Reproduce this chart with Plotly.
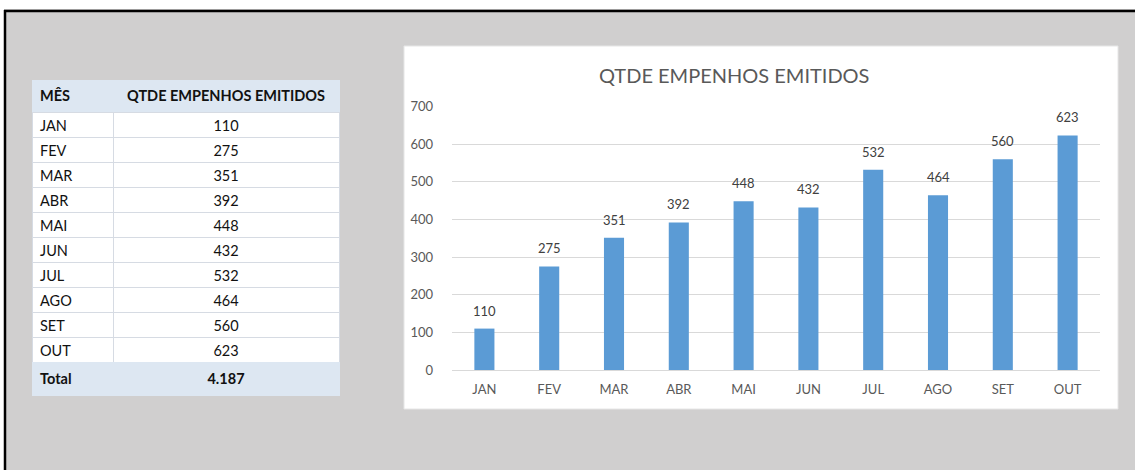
import plotly.graph_objects as go

months = ["JAN", "FEV", "MAR", "ABR", "MAI", "JUN", "JUL", "AGO", "SET", "OUT"]
values = [110, 275, 351, 392, 448, 432, 532, 464, 560, 623]
total_label = "4.187"
y_ticks = [0, 100, 200, 300, 400, 500, 600, 700]
title_text = "QTDE EMPENHOS EMITIDOS"
col_headers = ["MÊS", "QTDE EMPENHOS EMITIDOS"]

W, H = 1135, 470
def px(x):
    return x / W
def py(y):
    return 1 - y / H

FONT = "Lato"
GRAY_TXT = "#595959"
BAR = "#5b9bd5"
HDR = "#dde7f2"
BG = "#d0cfcf"
ROW_H = 25
HIDDEN_HDR = 20

fig = go.Figure()

fig.add_trace(go.Bar(
    x=months, y=values, marker_color=BAR, marker_line_width=0,
    xaxis="x", yaxis="y", showlegend=False, hoverinfo="skip",
))

# table: header row + month rows + total row, all as cells (non-breaking spaces avoid wrapping)
def nb(s):
    return s.replace(" ", "\u00a0")

col1 = ["<b>" + nb(col_headers[0]) + "</b>"] + months + ["<b>Total</b>"]
col2 = ["<b>" + nb(col_headers[1]) + "</b>"] + [str(v) for v in values] + ["<b>" + total_label + "</b>"]
n = len(col1)
fills = [[HDR] + ["white"] * (n - 2) + [HDR]] * 2
line_cols = [[HDR] + ["#d6dbe3"] * (n - 2) + [HDR]] * 2
tbl_top = 79
fig.add_trace(go.Table(
    domain=dict(x=[px(32), px(339)], y=[py(440), py(tbl_top - HIDDEN_HDR)]),
    columnwidth=[81, 226],
    header=dict(values=["", ""], height=HIDDEN_HDR, fill_color=BG, line_color=BG,
                font=dict(size=1, color=BG)),
    cells=dict(values=[col1, col2], fill_color=fills, line_color=line_cols,
               height=ROW_H, align=["left", "center"],
               font=dict(family=FONT, size=14.5, color="#111111")),
))

shapes = [
    dict(type="rect", xref="paper", yref="paper", x0=0, x1=1, y0=py(9), y1=1,
         fillcolor="white", line_width=0, layer="below"),
    dict(type="rect", xref="paper", yref="paper", x0=0, x1=px(4), y0=0, y1=1,
         fillcolor="white", line_width=0, layer="below"),
    dict(type="line", xref="paper", yref="paper", x0=px(4), x1=1, y0=py(11), y1=py(11),
         line=dict(color="black", width=2.5), layer="below"),
    dict(type="line", xref="paper", yref="paper", x0=px(5), x1=px(5), y0=0, y1=py(10),
         line=dict(color="black", width=2.5), layer="below"),
    dict(type="rect", xref="paper", yref="paper", x0=px(404), x1=px(1118), y0=py(409), y1=py(46),
         fillcolor="white", line=dict(color="#e6e6e6", width=1), layer="below"),
]

annotations = [
    dict(text=title_text, xref="paper", yref="paper", x=px(734), y=py(75),
         xanchor="center", yanchor="middle", showarrow=False,
         font=dict(family=FONT, size=20, color=GRAY_TXT)),
]
for m, v in zip(months, values):
    annotations.append(dict(text=str(v), x=m, y=v, xref="x", yref="y",
                            yanchor="middle", xanchor="center", yshift=18, showarrow=False,
                            font=dict(family=FONT, size=13, color="#404040")))

fig.update_layout(
    width=W, height=H,
    margin=dict(l=0, r=0, t=0, b=0, autoexpand=False),
    paper_bgcolor=BG,
    plot_bgcolor="white",
    bargap=0.69,
    shapes=shapes,
    annotations=annotations,
    xaxis=dict(domain=[px(452), px(1100)], showgrid=False, showline=False, automargin=False,
               tickfont=dict(family=FONT, size=13, color=GRAY_TXT),
               ticklabelstandoff=10, ticks=""),
    yaxis=dict(domain=[py(370), py(106.5)], range=[0, 700], tickvals=y_ticks, automargin=False,
               showgrid=True, gridcolor="#d9d9d9", gridwidth=1,
               zeroline=True, zerolinecolor="#d9d9d9", zerolinewidth=1,
               tickfont=dict(family=FONT, size=13, color=GRAY_TXT),
               ticklabelstandoff=18, ticks=""),
)

fig.write_html(
    "out.html",
    config={"displayModeBar": False},
    post_script="document.body.style.margin='0';document.body.style.overflow='hidden';",
)
